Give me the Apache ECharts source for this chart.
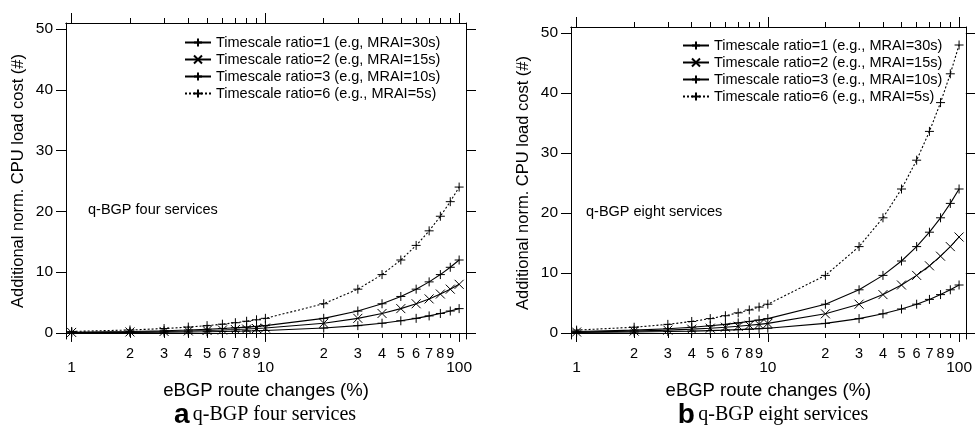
<!DOCTYPE html>
<html><head><meta charset="utf-8">
<script src="https://cdn.jsdelivr.net/npm/echarts@6/dist/echarts.min.js"></script>
<style>html,body{margin:0;padding:0;background:#fff}#c{width:975px;height:427px}</style>
</head><body><div id="c"></div>
<script>
// ---- data ----
const xValues = [1,2,3,4,5,6,7,8,9,10,20,30,40,50,60,70,80,90,100];
// panel a: q-BGP four services
const fourR1 = [0.04,0.08,0.12,0.16,0.2,0.24,0.28,0.32,0.36,0.4,0.8,1.2,1.6,2.0,2.4,2.8,3.2,3.6,4.0];
const fourR2 = [0.08,0.16,0.24,0.32,0.4,0.48,0.56,0.64,0.72,0.8,1.6,2.4,3.2,4.0,4.8,5.6,6.4,7.2,8.0];
const fourR3 = [0.12,0.24,0.36,0.48,0.6,0.72,0.84,0.96,1.08,1.2,2.4,3.6,4.8,6.0,7.2,8.4,9.6,10.8,12.0];
const fourR6 = [0.24,0.48,0.72,0.96,1.2,1.44,1.68,1.92,2.16,2.4,4.8,7.2,9.6,12.0,14.4,16.8,19.2,21.6,24.0];
// panel b: q-BGP eight services
const eightR1 = [0.08,0.16,0.24,0.32,0.4,0.48,0.56,0.64,0.72,0.8,1.6,2.4,3.2,4.0,4.8,5.6,6.4,7.2,8.0];
const eightR2 = [0.16,0.32,0.48,0.64,0.8,0.96,1.12,1.28,1.44,1.6,3.2,4.8,6.4,8.0,9.6,11.2,12.8,14.4,16.0];
const eightR3 = [0.24,0.48,0.72,0.96,1.2,1.44,1.68,1.92,2.16,2.4,4.8,7.2,9.6,12.0,14.4,16.8,19.2,21.6,24.0];
const eightR6 = [0.48,0.96,1.44,1.92,2.4,2.88,3.36,3.84,4.32,4.8,9.6,14.4,19.2,24.0,28.8,33.6,38.4,43.2,48.0];
const namesA = ['Timescale ratio=1 (e.g, MRAI=30s)','Timescale ratio=2 (e.g, MRAI=15s)','Timescale ratio=3 (e.g, MRAI=10s)','Timescale ratio=6 (e.g., MRAI=5s)'];
const namesB = ['Timescale ratio=1 (e.g., MRAI=30s)','Timescale ratio=2 (e.g., MRAI=15s)','Timescale ratio=3 (e.g., MRAI=10s)','Timescale ratio=6 (e.g., MRAI=5s)'];
const majorTicks = [1,10,100];
const minorTicks = [2,3,4,5,6,7,8,9,20,30,40,50,60,70,80,90];
const yTicks = [0,10,20,30,40,50];
const xTitle = 'eBGP route changes (%)';
const yTitle = 'Additional norm. CPU load cost (#)';
const panelNotes = ['q-BGP four services','q-BGP eight services'];
const captionLetters = ['a','b'];

// ---- chart ----
const FONT = 'Liberation Sans';
const PLUS = 'path://M5,0L5,10M0,5L10,5';
const CROSS = 'path://M0,0L10,10M0,10L10,0';
const grids = [
  {left:66, top:23, width:400, height:316},
  {left:571, top:27, width:399, height:312}
];
const XMIN = 0.935, XMAX = 108.5;
const lineAx = {show:true, lineStyle:{color:'#000', width:1}};
const xAxes = [], yAxes = [], series = [], legends = [], graphics = [];
grids.forEach((g, gi) => {
  const base = {type:'log', logBase:10, min:XMIN, max:XMAX, gridIndex:gi, splitLine:{show:false}, axisLine:lineAx};
  const xi = xAxes.length;
  xAxes.push(Object.assign({}, base, {position:'bottom',
    axisTick:{show:true, customValues:majorTicks, length:9, lineStyle:{color:'#000'}},
    axisLabel:{show:true, customValues:majorTicks, margin:21, fontSize:15.5, color:'#000', fontFamily:FONT, formatter:v=>String(v)},
    name:xTitle, nameLocation:'middle', nameGap:42, nameTextStyle:{fontSize:18.5, color:'#000', fontFamily:FONT}}));
  xAxes.push(Object.assign({}, base, {position:'bottom',
    axisTick:{show:true, customValues:minorTicks, length:5, lineStyle:{color:'#000'}},
    axisLabel:{show:true, customValues:minorTicks, margin:7, fontSize:14.5, color:'#000', fontFamily:FONT, formatter:v=>String(v>=10? Math.round(v/10): v)}}));
  xAxes.push(Object.assign({}, base, {position:'top',
    axisTick:{show:true, customValues:majorTicks, length:10, lineStyle:{color:'#000'}}, axisLabel:{show:false}}));
  xAxes.push(Object.assign({}, base, {position:'top',
    axisTick:{show:true, customValues:minorTicks, length:5, lineStyle:{color:'#000'}}, axisLabel:{show:false}}));
  const yi = yAxes.length;
  yAxes.push({type:'value', min:-1, max:51, gridIndex:gi, position:'left', splitLine:{show:false}, axisLine:lineAx,
    axisTick:{show:true, customValues:yTicks, length:10, lineStyle:{color:'#000'}},
    axisLabel:{show:true, customValues:yTicks, margin:13, fontSize:15.5, color:'#000', fontFamily:FONT},
    name:yTitle, nameLocation:'middle', nameGap:39, nameTextStyle:{fontSize:16.5, color:'#000', fontFamily:FONT}});
  yAxes.push({type:'value', min:-1, max:51, gridIndex:gi, position:'right', splitLine:{show:false}, axisLine:lineAx,
    axisTick:{show:true, customValues:yTicks, length:10, lineStyle:{color:'#000'}}, axisLabel:{show:false}});
  const names = gi === 0 ? namesA : namesB;
  const sets = gi === 0 ? [fourR1, fourR2, fourR3, fourR6] : [eightR1, eightR2, eightR3, eightR6];
  const syms = [PLUS, CROSS, PLUS, PLUS];
  sets.forEach((arr, si) => {
    series.push({type:'line', name:names[si], xAxisIndex:xi, yAxisIndex:yi,
      data: xValues.map((x, k) => [x, arr[k]]),
      symbol: syms[si], symbolSize: 9, showAllSymbol:true,
      lineStyle:{color:'#000', width:1.1, type: si === 3 ? [2,2] : 'solid'},
      itemStyle:{color:'#000', borderColor:'#000', borderWidth:1},
      animation:false, silent:true});
  });
  legends.push({data:names, orient:'vertical', left: gi === 0 ? 184 : 682, top: gi === 0 ? 34 : 37,
    itemWidth:26, itemHeight:10, itemGap:0, padding:0,
    textStyle:{fontSize:14.5, lineHeight:17, color:'#000', fontFamily:FONT}, selectedMode:false});
  graphics.push({type:'text', left: gi === 0 ? 88 : 586, top: gi === 0 ? 202 : 204,
    style:{text:panelNotes[gi], fontSize:14.5, fontFamily:FONT, fill:'#000'}});
  graphics.push({type:'text', x: gi === 0 ? 265 : 773, y: 415,
    style:{text:'{l|' + captionLetters[gi] + '} {s|' + panelNotes[gi] + '}', align:'center', verticalAlign:'middle',
      rich:{l:{fontSize:28, fontWeight:'bold', fontFamily:FONT, fill:'#000'}, s:{fontSize:20, fontFamily:'Liberation Serif', fill:'#000'}}}});
});
const chart = echarts.init(document.getElementById('c'), null, {renderer:'canvas'});
chart.setOption({backgroundColor:'#fff', animation:false, grid:grids, xAxis:xAxes, yAxis:yAxes, series:series, legend:legends, graphic:graphics});
</script></body></html>
